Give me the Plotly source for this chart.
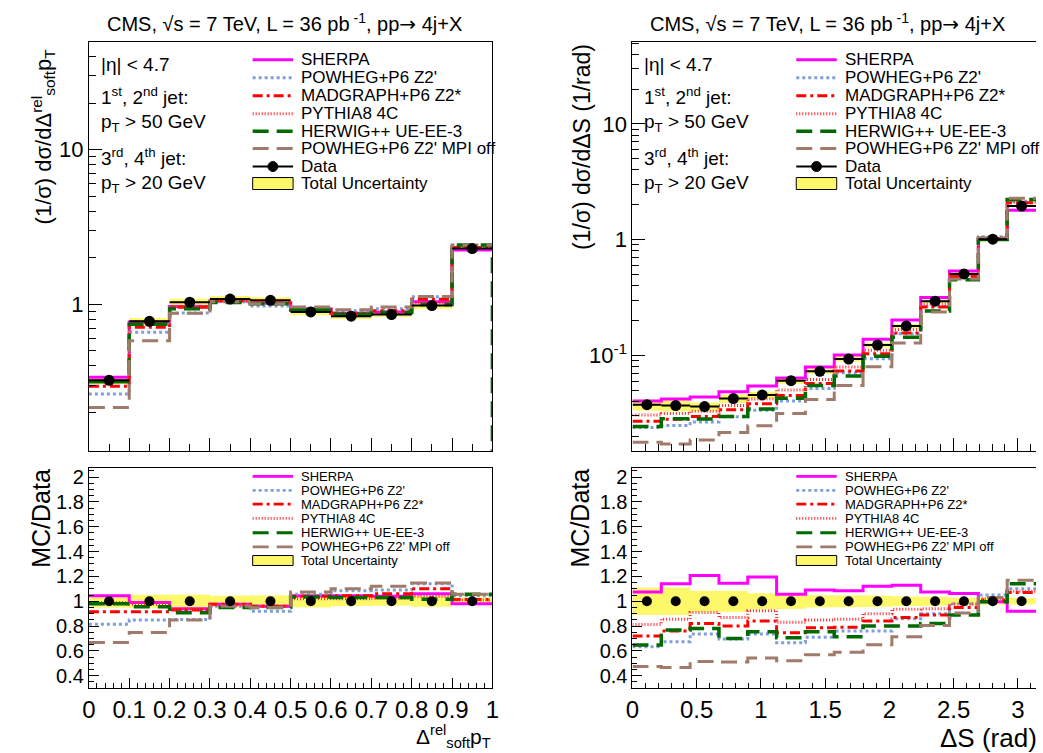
import numpy as np
import plotly.graph_objects as go

W, H = 1043, 753
FONT = "Liberation Sans, Arial, Helvetica, sans-serif"

# ---------------- data: left panel (Delta_soft^rel pT) ----------------
edges_L = [0.0, 0.1, 0.2, 0.3, 0.4, 0.5, 0.6, 0.7, 0.8, 0.9, 1.0]
data_L = [0.322, 0.776, 1.03, 1.08, 1.06, 0.892, 0.837, 0.857, 0.98, 2.29]
unc_L = [0.05, 0.05, 0.055, 0.045, 0.045, 0.05, 0.04, 0.035, 0.045, 0.03]
sherpa_L = [1.045, 0.99, 0.94, 0.975, 0.96, 1.045, 1.045, 1.04, 1.06, 0.98]
powheg_L = [0.815, 0.848, 0.853, 0.96, 0.92, 1.056, 1.085, 1.09, 1.14, 1.045]
madgraph_L = [0.915, 0.915, 0.93, 0.975, 0.96, 1.04, 1.045, 1.06, 1.10, 1.015]
pythia_L = [0.99, 0.975, 0.935, 0.97, 0.96, 1.02, 1.02, 1.025, 1.04, 1.01]
herwig_L = [0.98, 0.955, 0.907, 0.95, 0.95, 1.035, 1.03, 1.03, 1.016, 1.056]
mpioff_L = [0.668, 0.749, 0.848, 0.96, 0.95, 1.075, 1.10, 1.12, 1.146, 1.056]

# ---------------- data: right panel (Delta S) ----------------
edges_R = list(np.linspace(0.0, np.pi, 15))
data_R = [0.0375, 0.0368, 0.0361, 0.0423, 0.0455, 0.0604, 0.0728, 0.0929,
          0.1227, 0.179, 0.294, 0.505, 1.01, 1.95]
unc_R = [0.11, 0.11, 0.085, 0.085, 0.065, 0.06, 0.05, 0.05, 0.045, 0.04,
         0.035, 0.03, 0.025, 0.025]
sherpa_R = [1.074, 1.141, 1.208, 1.145, 1.195, 1.057, 1.09, 1.085, 1.12, 1.128,
            1.074, 1.063, 0.995, 0.92]
powheg_R = [0.634, 0.674, 0.736, 0.696, 0.736, 0.666, 0.71, 0.76, 0.76, 0.86,
            0.90, 0.98, 1.05, 1.10]
madgraph_R = [0.72, 0.76, 0.82, 0.80, 0.84, 0.746, 0.786, 0.79, 0.84, 0.87,
              0.89, 0.95, 1.01, 1.07]
pythia_R = [0.813, 0.856, 0.91, 0.87, 0.923, 0.83, 0.848, 0.855, 0.90, 0.935,
            0.94, 0.975, 1.02, 1.08]
herwig_R = [0.648, 0.768, 0.78, 0.70, 0.754, 0.706, 0.754, 0.714, 0.80, 0.80,
            0.82, 0.89, 0.995, 1.14]
mpioff_R = [0.474, 0.466, 0.514, 0.51, 0.542, 0.52, 0.57, 0.59, 0.65, 0.714,
            0.805, 0.905, 1.03, 1.17]

model_names = ["SHERPA", "POWHEG+P6 Z2'", "MADGRAPH+P6 Z2*", "PYTHIA8 4C",
               "HERWIG++ UE-EE-3", "POWHEG+P6 Z2' MPI off"]
ratios_L = [sherpa_L, powheg_L, madgraph_L, pythia_L, herwig_L, mpioff_L]
ratios_R = [sherpa_R, powheg_R, madgraph_R, pythia_R, herwig_R, mpioff_R]

styles = [
    dict(color="#ff00ff", width=3, dash="solid"),
    dict(color="#7f9fdc", width=3, dash="3px,3px"),
    dict(color="#ff0000", width=3, dash="10px,4px,3px,4px"),
    dict(color="#ff2a2a", width=3, dash="1px,2px"),
    dict(color="#006a00", width=3.5, dash="16px,8px"),
    dict(color="#a07a6a", width=3, dash="16px,8px"),
]
BAND = "#fdf76a"

fig = go.Figure()


def step(edges, vals):
    return list(edges), list(vals) + [vals[-1]]


def band(edges, lo, hi):
    xs, ys = [], []
    for i in range(len(hi)):
        xs += [edges[i], edges[i + 1]]
        ys += [hi[i], hi[i]]
    for i in reversed(range(len(lo))):
        xs += [edges[i + 1], edges[i]]
        ys += [lo[i], lo[i]]
    return xs, ys


def panel(edges, data, unc, ratios, xa, ya_top, ya_rat, drop_last=None):
    data = np.array(data)
    unc = np.array(unc)
    centers = [(edges[i] + edges[i + 1]) / 2 for i in range(len(data))]
    half = [(edges[i + 1] - edges[i]) / 2 for i in range(len(data))]
    # ---- top panel ----
    bx, by = band(edges, list(data * (1 - unc)), list(data * (1 + unc)))
    fig.add_trace(go.Scatter(x=bx, y=by, fill="toself", fillcolor=BAND, mode="lines",
                             line=dict(width=0), hoverinfo="skip",
                             xaxis=xa[0], yaxis=ya_top))
    for k, (r, st) in enumerate(zip(ratios, styles)):
        vals = list(np.array(r) * data)
        x, y = step(edges, vals)
        if drop_last is not None and k == drop_last:
            x = x + [edges[-1]]
            y = y + [1e-4]
        fig.add_trace(go.Scatter(x=x, y=y, mode="lines", line_shape="hv",
                                 line=st, xaxis=xa[0], yaxis=ya_top))
    fig.add_trace(go.Scatter(
        x=centers, y=list(data), mode="markers",
        marker=dict(size=11, color="black"),
        error_x=dict(type="data", array=half, width=0, thickness=2, color="black"),
        error_y=dict(type="data", array=list(data * unc * 0.6), width=0,
                     thickness=1.2, color="black"),
        xaxis=xa[0], yaxis=ya_top))
    # ---- ratio panel ----
    bx, by = band(edges, list(1 - unc), list(1 + unc))
    fig.add_trace(go.Scatter(x=bx, y=by, fill="toself", fillcolor=BAND, mode="lines",
                             line=dict(width=0), hoverinfo="skip",
                             xaxis=xa[1], yaxis=ya_rat))
    for r, st in zip(ratios, styles):
        x, y = step(edges, r)
        fig.add_trace(go.Scatter(x=x, y=y, mode="lines", line_shape="hv",
                                 line=st, xaxis=xa[1], yaxis=ya_rat))
    fig.add_trace(go.Scatter(x=centers, y=[1.0] * len(centers), mode="markers",
                             marker=dict(size=10, color="black"),
                             xaxis=xa[1], yaxis=ya_rat))


panel(edges_L, data_L, unc_L, ratios_L, ("x", "x2"), "y", "y2", drop_last=4)
panel(edges_R, data_R, unc_R, ratios_R, ("x3", "x4"), "y3", "y4")

# ---------------- axes ----------------
xL = [83 / W, 492 / W]
xR = [634 / W, 1.0]
yTop = [1 - 450 / H, 1 - 40 / H]
yRat = [1 - 688 / H, 1 - 467 / H]

common = dict(showline=True, linecolor="black", linewidth=1, ticks="inside",
              tickcolor="black", showgrid=False, zeroline=False,
              tickfont=dict(family=FONT, color="black"))

minL = [v * 10 ** e for e in (-1, 0, 1) for v in range(2, 10) if v * 10 ** e < 50]
minR = [v * 10 ** e for e in (-2, -1, 0, 1) for v in range(2, 10)
        if 0.015 < v * 10 ** e < 51]

fig.update_layout(
    width=W, height=H, margin=dict(l=0, r=0, t=0, b=0),
    paper_bgcolor="white", plot_bgcolor="white", showlegend=False,
    font=dict(family=FONT, color="black"),
    xaxis=dict(common, domain=xL, anchor="y", range=[0, 1], mirror=True,
               showticklabels=False, dtick=0.1, ticklen=13,
               minor=dict(dtick=0.05, ticklen=7, ticks="inside", tickcolor="black")),
    yaxis=dict(common, domain=yTop, anchor="x", type="log", range=[-0.948, 1.697],
               mirror=True, tickvals=[1, 10], ticktext=["1", "10"], ticklen=13,
               tickfont=dict(family=FONT, size=22, color="black"),
               minor=dict(tickvals=minL, ticklen=7, ticks="inside", tickcolor="black")),
    xaxis2=dict(common, domain=xL, anchor="y2", range=[0, 1], mirror=True,
                tickvals=edges_L, ticktext=["0", "0.1", "0.2", "0.3", "0.4", "0.5",
                                            "0.6", "0.7", "0.8", "0.9", "1"],
                ticklen=10, tickfont=dict(family=FONT, size=24, color="black"),
                minor=dict(dtick=0.02, ticklen=5, ticks="inside", tickcolor="black")),
    yaxis2=dict(common, domain=yRat, anchor="x2", range=[0.3, 2.075], mirror=True,
                dtick=0.2, tick0=0.4, ticklen=10,
                tickfont=dict(family=FONT, size=20, color="black"),
                minor=dict(dtick=0.05, ticklen=5, ticks="inside", tickcolor="black")),
    xaxis3=dict(common, domain=xR, anchor="y3", range=[0, np.pi], mirror=True,
                showticklabels=False, dtick=0.5, ticklen=13,
                minor=dict(dtick=0.1, ticklen=7, ticks="inside", tickcolor="black")),
    yaxis3=dict(common, domain=yTop, anchor="x3", type="log", range=[-1.825, 1.709],
                mirror=False, tickvals=[0.1, 1, 10],
                ticktext=["10<sup>-1</sup>", "1", "10"], ticklen=13,
                tickfont=dict(family=FONT, size=22, color="black"),
                minor=dict(tickvals=minR, ticklen=7, ticks="inside", tickcolor="black")),
    xaxis4=dict(common, domain=xR, anchor="y4", range=[0, np.pi], mirror=True,
                dtick=0.5, ticklen=10,
                tickfont=dict(family=FONT, size=24, color="black"),
                minor=dict(dtick=0.1, ticklen=5, ticks="inside", tickcolor="black")),
    yaxis4=dict(common, domain=yRat, anchor="x4", range=[0.3, 2.075], mirror=False,
                dtick=0.2, tick0=0.4, ticklen=10,
                tickfont=dict(family=FONT, size=20, color="black"),
                minor=dict(dtick=0.05, ticklen=5, ticks="inside", tickcolor="black")),
)

# ---------------- texts ----------------
def px(x):
    return x / W


def py(y):
    return 1 - y / H


ann = []
shapes = []


def text(x, y, s, size, xanchor="left", yanchor="middle", angle=0):
    ann.append(dict(x=px(x), y=py(y), xref="paper", yref="paper", text=s,
                    showarrow=False, xanchor=xanchor, yanchor=yanchor,
                    textangle=angle, font=dict(family=FONT, size=size, color="black")))


title = ("CMS, \u221as = 7 TeV, L = 36 pb<sup> -1</sup>, pp"
         "<span style=\"font-family:DejaVu Sans\">\u2192</span> 4j+X")
text(281, 21, title, 20, xanchor="center")
text(832, 21, title, 20, xanchor="center")

for x0 in (93, 644):
    text(x0, 63, "|\u03b7| < 4.7", 19)
    text(x0, 94, "1<sup>st</sup>, 2<sup>nd</sup> jet:", 19)
    text(x0, 121, "p<sub>T</sub> > 50 GeV", 19)
    text(x0, 155, "3<sup>rd</sup>, 4<sup>th</sup> jet:", 19)
    text(x0, 182, "p<sub>T</sub> > 20 GeV", 19)

text(37, 45, "(1/\u03c3) d\u03c3/d\u0394<sup>rel</sup><sub>soft</sub>p<sub>T</sub>", 22,
     xanchor="center", yanchor="top", angle=-90)
text(583, 40, "(1/\u03c3) d\u03c3/d\u0394S (1/rad)", 23,
     xanchor="center", yanchor="top", angle=-90)
text(35, 466, "MC/Data", 25, xanchor="center", yanchor="top", angle=-90)
text(581, 466, "MC/Data", 25, xanchor="center", yanchor="top", angle=-90)
text(493, 753, "\u0394<sup>rel</sup><sub>soft</sub>p<sub>T</sub>", 21,
     xanchor="right", yanchor="bottom")
text(1046, 738, "\u0394S (rad)", 26, xanchor="right")


def legend(xs0, xs1, xt, rows, size, with_data, lw_scale=1.0):
    n = len(model_names)
    for i in range(n):
        st = styles[i]
        shapes.append(dict(type="line", xref="paper", yref="paper",
                           x0=px(xs0), x1=px(xs1), y0=py(rows[i]), y1=py(rows[i]),
                           line=dict(color=st["color"], width=st["width"] * lw_scale,
                                     dash=st["dash"])))
        text(xt, rows[i], model_names[i], size)
    k = n
    if with_data:
        y = rows[k]
        shapes.append(dict(type="line", xref="paper", yref="paper",
                           x0=px(xs0), x1=px(xs1), y0=py(y), y1=py(y),
                           line=dict(color="black", width=2)))
        xc = (xs0 + xs1) / 2
        shapes.append(dict(type="circle", xref="paper", yref="paper",
                           x0=px(xc - 5), x1=px(xc + 5), y0=py(y + 5), y1=py(y - 5),
                           fillcolor="black", line=dict(color="black", width=1)))
        text(xt, y, "Data", size)
        k += 1
    y = rows[k]
    hh = 6 if with_data else 5
    shapes.append(dict(type="rect", xref="paper", yref="paper",
                       x0=px(xs0), x1=px(xs1), y0=py(y + hh), y1=py(y - hh),
                       fillcolor=BAND, line=dict(color="black", width=1)))
    text(xt, y, "Total Uncertainty", size)


rows_top = [58, 76, 94, 112, 129.5, 147, 165, 182]
rows_rat = [475.7, 489.7, 503.5, 517.7, 532.2, 546.3, 560]
legend(249, 290, 296, rows_top, 17, True)
legend(800, 841, 847, rows_top, 17, True)
legend(249, 290, 296, rows_rat, 13, False, 0.9)
legend(800, 841, 847, rows_rat, 13, False, 0.9)

fig.update_layout(annotations=ann, shapes=shapes)
fig.write_html("out.html")
